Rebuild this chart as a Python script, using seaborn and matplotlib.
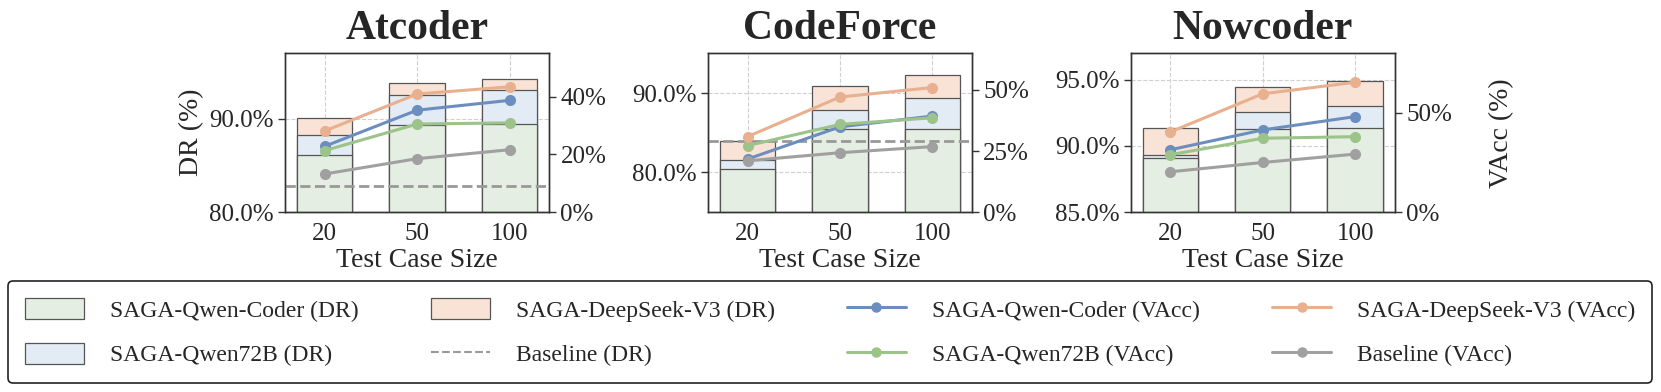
import numpy as np
import matplotlib
matplotlib.use("Agg")
import matplotlib.pyplot as plt
import seaborn as sns
from matplotlib.patches import Patch
from matplotlib.lines import Line2D
from matplotlib.ticker import FuncFormatter, MultipleLocator

sns.set_style("white")
plt.rcParams['font.family'] = ['Liberation Serif', 'DejaVu Serif']

sizes = ["20", "50", "100"]

# Atcoder
at_dr_coder = [86.1, 89.3, 89.4]
at_dr_72b = [88.3, 92.55, 93.1]
at_dr_ds = [90.1, 93.8, 94.2]
at_dr_base = 82.8
at_vacc_coder = [22.8, 35.3, 38.7]
at_vacc_72b = [21.3, 30.5, 30.9]
at_vacc_ds = [28.1, 40.9, 43.4]
at_vacc_base = [13.2, 18.5, 21.6]

# CodeForce
cf_dr_coder = [80.4, 85.5, 85.5]
cf_dr_72b = [81.55, 87.85, 89.35]
cf_dr_ds = [83.9, 90.85, 92.25]
cf_dr_base = 83.9
cf_vacc_coder = [21.7, 34.9, 39.3]
cf_vacc_72b = [27.2, 35.9, 38.6]
cf_vacc_ds = [30.9, 47.1, 51.0]
cf_vacc_base = [21.0, 24.3, 26.8]

# Nowcoder
nc_dr_coder = [89.1, 91.25, 91.35]
nc_dr_72b = [89.3, 92.55, 93.0]
nc_dr_ds = [91.35, 94.45, 94.9]
nc_dr_base = 84.5
nc_vacc_coder = [31.4, 41.4, 48.1]
nc_vacc_72b = [28.9, 37.2, 38.0]
nc_vacc_ds = [40.4, 59.6, 65.4]
nc_vacc_base = [20.3, 25.0, 29.2]

panels = [
    ("Atcoder", [at_dr_coder, at_dr_72b, at_dr_ds], at_dr_base,
     [at_vacc_coder, at_vacc_72b, at_vacc_ds, at_vacc_base], (80, 97), (0, 55), 10, 20),
    ("CodeForce", [cf_dr_coder, cf_dr_72b, cf_dr_ds], cf_dr_base,
     [cf_vacc_coder, cf_vacc_72b, cf_vacc_ds, cf_vacc_base], (75, 95), (0, 65), 10, 25),
    ("Nowcoder", [nc_dr_coder, nc_dr_72b, nc_dr_ds], nc_dr_base,
     [nc_vacc_coder, nc_vacc_72b, nc_vacc_ds, nc_vacc_base], (85, 97), (0, 80), 5, 50),
]

bar_colors = ["#e4eee2", "#e3ebf5", "#f9e3d6"]   # coder, 72b, deepseek
line_colors = ["#6c8ebf", "#9cc38a", "#e8b08e", "#a0a0a0"]  # coder, 72b, deepseek, baseline
edge = "#555555"
spine_col = "#333333"

fig, axes = plt.subplots(1, 3, figsize=(16.61, 3.92), dpi=100)
plt.subplots_adjust(left=0.1716, right=0.8398, bottom=0.459, top=0.864, wspace=0.6)

pos = np.arange(len(sizes))

for i, (ax, (name, drs, dr_base, vaccs, ylim_l, ylim_r, step_l, step_r)) in enumerate(zip(axes, panels)):
    # draw back to front: deepseek, qwen72b, qwen-coder
    for j in [2, 1, 0]:
        sns.barplot(x=sizes, y=drs[j], order=sizes, width=0.6, color=bar_colors[j],
                    saturation=1, edgecolor=edge, linewidth=0.9, ax=ax)
    ax.axhline(dr_base, color="#999999", linestyle="--", linewidth=2, zorder=3)
    ax.set_ylim(*ylim_l)
    ax.yaxis.set_major_locator(MultipleLocator(step_l))
    ax.yaxis.set_major_formatter(FuncFormatter(lambda v, p: f"{v:.1f}%"))
    ax.grid(True, axis="both", linestyle="--", color="#d0d0d0", linewidth=0.8)
    ax.set_axisbelow(True)

    ax2 = ax.twinx()
    for j in [0, 1, 2, 3]:
        sns.lineplot(x=pos, y=vaccs[j], color=line_colors[j], marker="o", markersize=8,
                     markeredgewidth=0, linewidth=2.2, ax=ax2, legend=False)
    ax2.set_ylim(*ylim_r)
    ax2.yaxis.set_major_locator(MultipleLocator(step_r))
    ax2.yaxis.set_major_formatter(FuncFormatter(lambda v, p: f"{v:.0f}%"))
    ax2.grid(False)

    ax.set_xlim(-0.43, 2.43)
    ax.set_title(name, fontsize=30, fontweight="bold", pad=10)
    ax.set_xlabel("Test Case Size", fontsize=20, labelpad=2)
    ax.set_ylabel("DR (%)" if i == 0 else "", fontsize=20)
    ax2.set_ylabel("VAcc (%)" if i == 2 else "", fontsize=20, labelpad=27)

    for a in (ax, ax2):
        a.tick_params(axis="both", labelsize=18, length=5, width=1, color=spine_col, pad=3)
        for s in a.spines.values():
            s.set_color(spine_col)
            s.set_linewidth(1)

handles = [
    Patch(facecolor=bar_colors[0], edgecolor=edge, linewidth=0.9),
    Patch(facecolor=bar_colors[1], edgecolor=edge, linewidth=0.9),
    Patch(facecolor=bar_colors[2], edgecolor=edge, linewidth=0.9),
    Line2D([], [], color="#999999", linestyle="--", linewidth=1.5),
    Line2D([], [], color=line_colors[0], marker="o", markersize=6.5, linewidth=2.2),
    Line2D([], [], color=line_colors[1], marker="o", markersize=6.5, linewidth=2.2),
    Line2D([], [], color=line_colors[2], marker="o", markersize=6.5, linewidth=2.2),
    Line2D([], [], color=line_colors[3], marker="o", markersize=6.5, linewidth=2.2),
]
labels = [
    "SAGA-Qwen-Coder (DR)", "SAGA-Qwen72B (DR)",
    "SAGA-DeepSeek-V3 (DR)", "Baseline (DR)",
    "SAGA-Qwen-Coder (VAcc)", "SAGA-Qwen72B (VAcc)",
    "SAGA-DeepSeek-V3 (VAcc)", "Baseline (VAcc)",
]
leg = fig.legend(handles, labels, ncol=4, loc="lower left", mode="expand",
                 bbox_to_anchor=(0.0048, 0.023, 0.9898, 0.25), borderaxespad=0,
                 fontsize=17, handlelength=2.5, handleheight=1.0, handletextpad=1.1,
                 labelspacing=0.9, borderpad=0.7, frameon=True, fancybox=True)
leg.get_frame().set_edgecolor("#222222")
leg.get_frame().set_linewidth(1.2)
leg.get_frame().set_alpha(1)

fig.savefig("out.png", dpi=100)
